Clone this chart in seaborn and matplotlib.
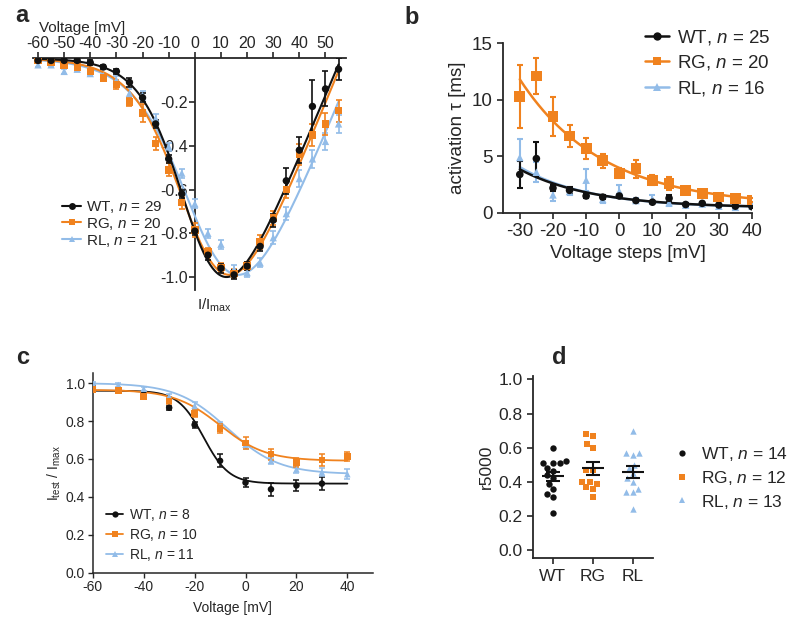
import numpy as np
import pandas as pd
import matplotlib
matplotlib.use("Agg")
import matplotlib.pyplot as plt
import seaborn as sns
from matplotlib.lines import Line2D

sns.set_theme(style="ticks")
plt.rcParams['font.family'] = ['Liberation Sans', 'DejaVu Sans']
plt.rcParams['mathtext.fontset'] = 'custom'
plt.rcParams['mathtext.rm'] = 'Liberation Sans'
plt.rcParams['mathtext.it'] = 'Liberation Sans:italic'
plt.rcParams['axes.unicode_minus'] = False

BLACK = '#111111'
ORANGE = '#F0821E'
BLUE = '#92BCE8'
groups = ['WT', 'RG', 'RL']
colors = {'WT': BLACK, 'RG': ORANGE, 'RL': BLUE}
markers = {'WT': 'o', 'RG': 's', 'RL': '^'}

# ---------------- Panel a : I/V ----------------
a_voltage = [-60, -55, -50, -45, -40, -35, -30, -25, -20, -15, -10, -5,
             0, 5, 10, 15, 20, 25, 30, 35, 40, 45, 50, 55]
a_wt = [-0.01, -0.01, -0.01, -0.01, -0.02, -0.04, -0.06, -0.11, -0.18, -0.30, -0.46, -0.62,
        -0.79, -0.90, -0.96, -0.99, -0.95, -0.86, -0.74, -0.56, -0.42, -0.22, -0.14, -0.05]
a_wt_err = [0.01, 0.01, 0.01, 0.01, 0.01, 0.01, 0.01, 0.02, 0.02, 0.02, 0.02, 0.02,
            0.02, 0.02, 0.02, 0.02, 0.02, 0.02, 0.03, 0.06, 0.06, 0.12, 0.08, 0.05]
a_rg = [-0.01, -0.02, -0.03, -0.04, -0.06, -0.09, -0.12, -0.20, -0.25, -0.39, -0.51, -0.66,
        -0.785, -0.885, -0.955, -0.985, -0.95, -0.84, -0.73, -0.60, -0.44, -0.35, -0.30, -0.24]
a_rg_err = [0.01, 0.01, 0.01, 0.01, 0.01, 0.01, 0.02, 0.02, 0.04, 0.03, 0.03, 0.03,
            0.03, 0.02, 0.02, 0.02, 0.02, 0.03, 0.03, 0.04, 0.05, 0.05, 0.05, 0.05]
a_rl = [-0.03, -0.03, -0.06, -0.05, -0.07, -0.08, -0.10, -0.16, -0.17, -0.275, -0.405, -0.525,
        -0.665, -0.80, -0.85, -0.965, -0.98, -0.935, -0.82, -0.71, -0.55, -0.46, -0.38, -0.30]
a_rl_err = [0.01, 0.01, 0.01, 0.01, 0.01, 0.01, 0.02, 0.02, 0.02, 0.02, 0.02, 0.02,
            0.02, 0.02, 0.02, 0.02, 0.02, 0.02, 0.03, 0.03, 0.04, 0.04, 0.04, 0.04]
a_n = {'WT': 29, 'RG': 20, 'RL': 21}
# Boltzmann-linear fit parameters: V1/2, slope k, Erev, depth of minimum
a_fit = {'WT': (0.0, 8.5, 56.0, 1.0), 'RG': (1.0, 9.7, 57.0, 0.99), 'RL': (4.0, 10.7, 62.0, 0.99)}

# ---------------- Panel b : activation tau ----------------
b_voltage = [-30, -25, -20, -15, -10, -5, 0, 5, 10, 15, 20, 25, 30, 35, 40]
b_wt = [3.4, 4.8, 2.2, 2.0, 1.5, 1.4, 1.5, 1.1, 0.95, 1.3, 0.75, 0.85, 0.7, 0.6, 0.55]
b_wt_err = [1.2, 1.5, 0.3, 0.3, 0.15, 0.15, 0.2, 0.15, 0.1, 0.3, 0.1, 0.1, 0.1, 0.1, 0.1]
b_rg = [10.3, 12.1, 8.5, 6.8, 5.7, 4.6, 3.5, 3.9, 2.9, 2.6, 2.0, 1.7, 1.4, 1.3, 1.15]
b_rg_err = [2.8, 1.6, 1.7, 1.0, 0.9, 0.6, 0.45, 0.8, 0.45, 0.6, 0.3, 0.2, 0.2, 0.2, 0.2]
b_rl = [4.9, 3.6, 1.6, 1.9, 2.9, 1.2, 1.9, 1.1, 1.2, 0.9, 0.7, 0.8, 0.6, 0.5, 0.6]
b_rl_err = [1.6, 0.9, 0.5, 0.3, 1.0, 0.3, 0.6, 0.2, 0.4, 0.3, 0.15, 0.15, 0.15, 0.15, 0.15]
b_n = {'WT': 25, 'RG': 20, 'RL': 16}
# mono-exponential fit parameters: amplitude, decay (mV), offset
b_fit = {'WT': (3.4, 22.0, 0.45), 'RG': (11.2, 25.0, 0.6), 'RL': (3.6, 21.0, 0.45)}

# ---------------- Panel c : inactivation ----------------
c_voltage = [-60, -50, -40, -30, -20, -10, 0, 10, 20, 30, 40]
c_wt = [0.975, 0.96, 0.94, 0.87, 0.78, 0.59, 0.475, 0.44, 0.46, 0.47]
c_wt_err = [0.01, 0.01, 0.01, 0.01, 0.015, 0.035, 0.025, 0.035, 0.03, 0.035]
c_rg = [0.965, 0.96, 0.93, 0.905, 0.84, 0.76, 0.685, 0.625, 0.58, 0.595, 0.612]
c_rg_err = [0.01, 0.01, 0.015, 0.015, 0.02, 0.025, 0.03, 0.03, 0.025, 0.03, 0.025]
c_rl = [1.0, 0.99, 0.97, 0.93, 0.88, 0.77, 0.675, 0.59, 0.545, 0.53, 0.52]
c_rl_err = [0.005, 0.01, 0.01, 0.015, 0.02, 0.025, 0.02, 0.015, 0.02, 0.02, 0.025]
c_n = {'WT': 8, 'RG': 10, 'RL': 11}
# Boltzmann fit parameters: top, bottom, V1/2, k
c_fit = {'WT': (0.96, 0.47, -16.5, 5.0), 'RG': (0.965, 0.59, -10.0, 9.0), 'RL': (1.0, 0.52, -7.0, 10.0)}

# ---------------- Panel d : r5000 ----------------
d_wt = [0.60, 0.52, 0.51, 0.51, 0.51, 0.48, 0.465, 0.44, 0.42, 0.39, 0.36, 0.33, 0.31, 0.215]
d_rg = [0.68, 0.67, 0.62, 0.60, 0.47, 0.47, 0.40, 0.40, 0.39, 0.37, 0.36, 0.31]
d_rl = [0.70, 0.57, 0.56, 0.57, 0.50, 0.48, 0.45, 0.42, 0.40, 0.36, 0.34, 0.34, 0.24]
d_n = {'WT': 14, 'RG': 12, 'RL': 13}

fig = plt.figure(figsize=(8, 6.2), dpi=100)


def draw_series(ax, x, y, err, g, ms, lw_err=1.2, cap=2.5):
    n = len(y)
    ax.errorbar(x[:n], y, yerr=err, fmt='none', ecolor=colors[g], elinewidth=lw_err,
                capsize=cap, capthick=lw_err, zorder=3)
    df = pd.DataFrame({'x': x[:n], 'y': y})
    sns.scatterplot(data=df, x='x', y='y', ax=ax, color=colors[g], marker=markers[g],
                    s=ms, edgecolor='none', linewidth=0, zorder=4, legend=False)


def legend_handles(ms, lw, line=True):
    return [Line2D([0], [0], color=colors[g], marker=markers[g], markersize=ms,
                   lw=lw if line else 0, markeredgewidth=0) for g in groups]


# ===== Panel a =====
axA = fig.add_axes([0.041, 0.532, 0.392, 0.374])
vv = np.linspace(-60, 55, 400)
for g, ys, es in [('RL', a_rl, a_rl_err), ('RG', a_rg, a_rg_err), ('WT', a_wt, a_wt_err)]:
    vh, k, erev, depth = a_fit[g]
    cur = (vv - erev) / (1 + np.exp((vh - vv) / k))
    cur = depth * cur / abs(cur.min())
    sns.lineplot(x=vv, y=cur, ax=axA, color=colors[g], lw=1.5, zorder=3)
    draw_series(axA, a_voltage, ys, es, g, 28)
axA.set_xlim(-62, 58)
axA.set_ylim(-1.06, 0.0)
axA.spines['left'].set_position(('data', 0))
axA.spines['bottom'].set_visible(False)
axA.spines['right'].set_visible(False)
axA.spines['top'].set_visible(True)
for s in axA.spines.values():
    s.set_linewidth(1.3)
axA.xaxis.tick_top()
axA.set_xticks(list(range(-60, 60, 10)))
axA.set_yticks([-0.2, -0.4, -0.6, -0.8, -1.0])
axA.set_yticklabels(['-0.2', '-0.4', '-0.6', '-0.8', '-1.0'])
axA.tick_params(axis='both', labelsize=11.5, length=4, width=1.2, pad=1)
axA.set_xlabel('')
axA.set_ylabel('')
fig.text(0.103, 0.955, 'Voltage [mV]', ha='center', va='center', fontsize=11)
fig.text(0.268, 0.508, r'I/I$_{\mathrm{max}}$', ha='center', va='center', fontsize=11)
axA.legend(handles=legend_handles(5, 1.5),
           labels=[rf'{g}, $n$ = {a_n[g]}' for g in groups],
           loc='center left', bbox_to_anchor=(0.078, 0.639), bbox_transform=fig.transFigure,
           frameon=False, fontsize=11, handlelength=1.2, handletextpad=0.35,
           labelspacing=0.05, borderpad=0, borderaxespad=0)

# ===== Panel b =====
axB = fig.add_axes([0.629, 0.6565, 0.311, 0.274])
vb = np.linspace(-30, 40, 200)
for g, ys, es in [('RL', b_rl, b_rl_err), ('WT', b_wt, b_wt_err), ('RG', b_rg, b_rg_err)]:
    amp, s_, c0 = b_fit[g]
    sns.lineplot(x=vb, y=amp * np.exp(-(vb + 30) / s_) + c0, ax=axB, color=colors[g], lw=1.8, zorder=3)
    draw_series(axB, b_voltage, ys, es, g, 60 if g == 'RG' else 30, lw_err=1.5, cap=2)
axB.set_xlim(-35, 40)
axB.set_ylim(0, 15)
axB.set_xticks(list(range(-30, 41, 10)))
axB.set_yticks([0, 5, 10, 15])
sns.despine(ax=axB)
for s in ['left', 'bottom']:
    axB.spines[s].set_linewidth(1.3)
axB.tick_params(axis='both', labelsize=13.5, length=4, width=1.2)
axB.set_xlabel('Voltage steps [mV]', fontsize=13.5, labelpad=3)
axB.set_ylabel('activation τ [ms]', fontsize=13.5, labelpad=4)
axB.legend(handles=legend_handles(6, 1.8),
           labels=[rf'{g}, $n$ = {b_n[g]}' for g in groups],
           loc='upper left', bbox_to_anchor=(0.806, 0.955), bbox_transform=fig.transFigure,
           frameon=False, fontsize=13.5, handlelength=1.3, handletextpad=0.4,
           labelspacing=0.35, borderpad=0, borderaxespad=0)

# ===== Panel c =====
axC = fig.add_axes([0.116, 0.0763, 0.35, 0.322])
vc = np.linspace(-60, 40, 300)
for g, ys, es in [('WT', c_wt, c_wt_err), ('RL', c_rl, c_rl_err), ('RG', c_rg, c_rg_err)]:
    top, bot, vh, k = c_fit[g]
    sns.lineplot(x=vc, y=bot + (top - bot) / (1 + np.exp((vc - vh) / k)), ax=axC,
                 color=colors[g], lw=1.3, zorder=3)
    draw_series(axC, c_voltage, ys, es, g, 22, lw_err=1.1, cap=2)
axC.set_xlim(-60, 50)
axC.set_ylim(0, 1.053)
axC.set_xticks(list(range(-60, 41, 20)))
axC.set_yticks([0, 0.2, 0.4, 0.6, 0.8, 1.0])
axC.set_yticklabels(['0.0', '0.2', '0.4', '0.6', '0.8', '1.0'])
sns.despine(ax=axC)
for s in ['left', 'bottom']:
    axC.spines[s].set_linewidth(1.1)
axC.tick_params(axis='both', labelsize=10, length=3.5, width=1.0, pad=2)
axC.set_xlabel('Voltage [mV]', fontsize=10, labelpad=5)
axC.set_ylabel(r'I$_{\mathrm{test}}$ / I$_{\mathrm{max}}$', fontsize=10, labelpad=2)
axC.legend(handles=legend_handles(4.5, 1.3),
           labels=[rf'{g}, $n$ = {c_n[g]}' for g in groups],
           loc='center left', bbox_to_anchor=(0.133, 0.137), bbox_transform=fig.transFigure,
           frameon=False, fontsize=10, handlelength=1.2, handletextpad=0.45,
           labelspacing=0.3, borderpad=0, borderaxespad=0)

# ===== Panel d =====
axD = fig.add_axes([0.666, 0.0995, 0.15, 0.294])
d_df = pd.DataFrame({'group': ['WT'] * len(d_wt) + ['RG'] * len(d_rg) + ['RL'] * len(d_rl),
                     'r5000': d_wt + d_rg + d_rl})
for g in groups:
    sub = d_df[d_df['group'] == g]
    sns.swarmplot(data=sub, x='group', y='r5000', order=groups, ax=axD, color=colors[g],
                  marker=markers[g], size=4.6, linewidth=0, zorder=3)
for i, g in enumerate(groups):
    vals = d_df.loc[d_df['group'] == g, 'r5000'].to_numpy()
    m = vals.mean()
    se = vals.std(ddof=1) / np.sqrt(len(vals))
    axD.hlines(m, i - 0.28, i + 0.28, color=BLACK, lw=1.5, zorder=4)
    axD.errorbar([i], [m], yerr=[se], fmt='none', ecolor=BLACK, elinewidth=1.5,
                 capsize=5, capthick=1.5, zorder=4)
axD.set_xlim(-0.5, 2.5)
axD.set_ylim(-0.048, 1.02)
axD.set_yticks([0, 0.2, 0.4, 0.6, 0.8, 1.0])
axD.set_yticklabels(['0.0', '0.2', '0.4', '0.6', '0.8', '1.0'])
sns.despine(ax=axD)
for s in ['left', 'bottom']:
    axD.spines[s].set_linewidth(1.3)
axD.tick_params(axis='both', labelsize=12.5, length=4, width=1.2)
axD.set_xlabel('')
axD.set_ylabel('r5000', fontsize=12.5, labelpad=3)
axD.legend(handles=legend_handles(4.5, 0, line=False),
           labels=[rf'{g}, $n$ = {d_n[g]}' for g in groups],
           loc='center left', bbox_to_anchor=(0.842, 0.229), bbox_transform=fig.transFigure,
           frameon=False, fontsize=12.5, handlelength=1.0, handletextpad=0.6,
           labelspacing=0.32, borderpad=0, borderaxespad=0)

# panel letters
for lbl, x, y in [('a', 0.019, 0.975), ('b', 0.506, 0.972), ('c', 0.02, 0.423), ('d', 0.69, 0.423)]:
    fig.text(x, y, lbl, fontsize=17, fontweight='bold', ha='left', va='center')

fig.savefig('out.png', dpi=100)
